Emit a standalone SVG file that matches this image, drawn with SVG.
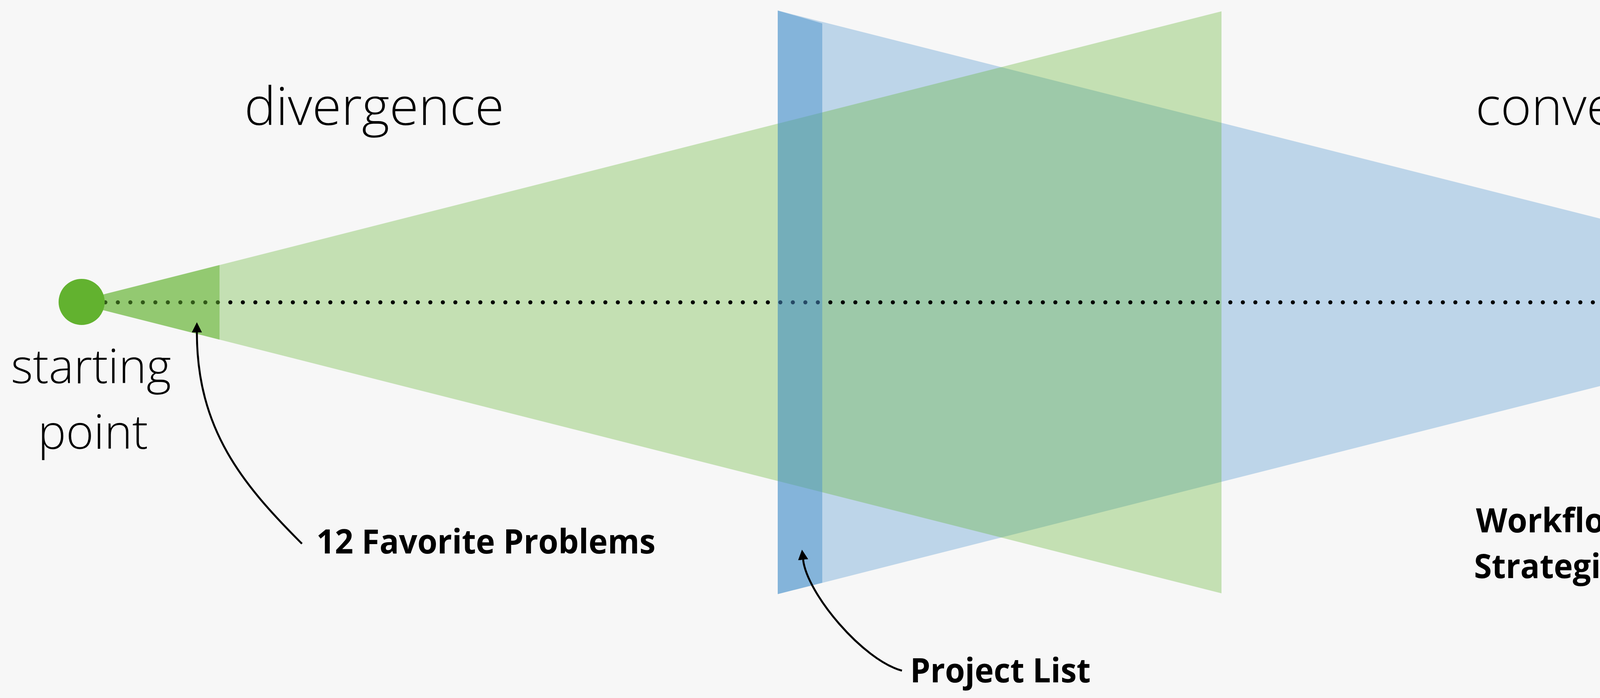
<svg xmlns="http://www.w3.org/2000/svg" width="5120" height="1787" viewBox="0 0 5120 1787">
<defs>
<style>
.light{font-family:"Open Sans","Noto Sans","Liberation Sans",sans-serif;font-weight:350;fill:#000;text-anchor:middle}
.bold{font-family:"Open Sans","Noto Sans","Liberation Sans",sans-serif;font-weight:700;fill:#000;font-size:86px;text-anchor:middle}
.curve{fill:none;stroke:#000;stroke-width:5}
.dots{fill:none;stroke-width:10.5;stroke-linecap:round;stroke-dasharray:0 32}
.blue{fill:#4C94CC}
.green{fill:#62B22F}
</style>
<marker id="ah" markerUnits="userSpaceOnUse" markerWidth="26" markerHeight="26" refX="0" refY="13" orient="auto" viewBox="0 0 26 26"><path d="M0,0 L26,13 L0,26 Z" fill="#000"/></marker>
</defs>
<rect width="5120" height="1787" fill="#F7F7F7"/>
<g id="regions">
<polygon id="convergence-cone" class="blue" fill-opacity="0.34" points="1991,27 4943,774 1991,1521"/>
<polygon id="divergence-cone" class="green" fill-opacity="0.34" points="185,774 3127,29 3127,1519"/>
<polygon id="favorite-problems-zone" class="green" fill-opacity="0.5" points="185,774 562,678.5 562,869.5"/>
<polygon id="project-list-band" class="blue" fill-opacity="0.5" points="1991,27 2105,60 2105,1492 1991,1521"/>
<polygon id="workflow-zone" class="blue" fill-opacity="0.3" points="4210,588.5 4943,774 4210,959.5"/>
</g>
<g id="connectors">
<line class="dots" x1="269.7" y1="774" x2="558.7" y2="774" stroke="#315918"/>
<line class="dots" x1="589.7" y1="774" x2="1966.7" y2="774" stroke="#000"/>
<line class="dots" x1="1997.7" y1="774" x2="2094.7" y2="774" stroke="#264A66"/>
<line class="dots" x1="2125.7" y1="774" x2="4142.7" y2="774" stroke="#000"/>
<polygon points="4165,751.5 4210.6,774 4165,796.5" fill="#000"/>
<path class="curve" d="M773,1392 C623,1242 504,1101 504,851" marker-end="url(#ah)"/>
<path class="curve" d="M2309,1717 C2209,1690 2066,1520 2056,1433" marker-end="url(#ah)"/>
<path class="curve" d="M4213,1392 C4303,1315 4482,1130 4482,851" marker-end="url(#ah)"/>
</g>
<g id="start-node">
<circle cx="209" cy="773" r="59" fill="#62B22F"/>
<text class="light" font-size="122" x="233" y="981" textLength="410" lengthAdjust="spacingAndGlyphs">starting</text>
<text class="light" font-size="122" x="238" y="1149" textLength="282" lengthAdjust="spacingAndGlyphs">point</text>
</g>
<g id="final-node">
<circle cx="4908" cy="773" r="59" fill="#05668D"/>
<text class="light" font-size="122" x="4894" y="981" textLength="230" lengthAdjust="spacingAndGlyphs">final</text>
<text class="light" font-size="122" x="4898" y="1148" textLength="428" lengthAdjust="spacingAndGlyphs">delivery</text>
</g>
<g id="divergence-label">
<text class="light" font-size="134" x="958" y="320" textLength="665" lengthAdjust="spacingAndGlyphs">divergence</text>
</g>
<g id="convergence-label">
<text class="light" font-size="134" x="4163" y="320" textLength="771" lengthAdjust="spacingAndGlyphs">convergence</text>
</g>
<g id="favorite-problems-label">
<text class="bold" x="1244" y="1417" textLength="868" lengthAdjust="spacingAndGlyphs">12 Favorite Problems</text>
</g>
<g id="project-list-label">
<text class="bold" x="2561" y="1747" textLength="462" lengthAdjust="spacingAndGlyphs">Project List</text>
</g>
<g id="workflow-strategies-label">
<text class="bold" x="3978.5" y="1363" textLength="400" lengthAdjust="spacingAndGlyphs">Workflow</text>
<text class="bold" x="3980.6" y="1480" textLength="414" lengthAdjust="spacingAndGlyphs">Strategies</text>
</g>
</svg>
